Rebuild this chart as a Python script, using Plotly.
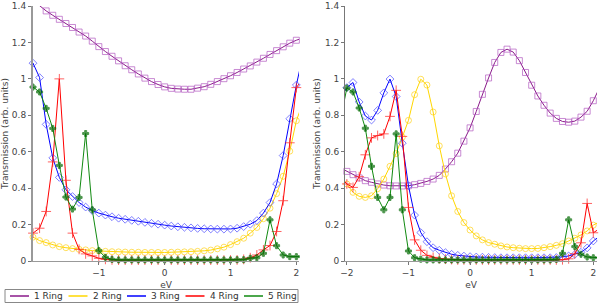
import plotly.graph_objects as go

# x grid (eV), -2.1 .. 2.1 step 0.1
x_ev = [round(v / 10, 1) for v in range(-21, 22)]

# ---------- left panel ----------
left_1ring = [1.46, 1.43, 1.405, 1.373, 1.349, 1.327, 1.304, 1.282, 1.257, 1.235, 1.207,
              1.177, 1.150, 1.124, 1.099, 1.072, 1.050, 1.027, 1.004, 0.985, 0.969,
              0.956, 0.948, 0.944, 0.943, 0.943, 0.949, 0.957, 0.970, 0.985, 1.001,
              1.017, 1.035, 1.054, 1.071, 1.092, 1.113, 1.134, 1.155, 1.176, 1.196,
              1.212, 1.225]
left_2ring = [0.145, 0.131, 0.112, 0.101, 0.088, 0.079, 0.073, 0.068, 0.064, 0.061, 0.057,
              0.055, 0.053, 0.051, 0.050, 0.049, 0.048, 0.048, 0.047, 0.047, 0.047,
              0.047, 0.048, 0.049, 0.050, 0.051, 0.053, 0.056, 0.060, 0.067, 0.076,
              0.090, 0.106, 0.125, 0.153, 0.184, 0.232, 0.290, 0.370, 0.465, 0.603,
              0.770, 0.870]
left_3ring = [0.90, 1.086, 1.007, 0.750, 0.566, 0.459, 0.391, 0.354, 0.321, 0.296, 0.277,
              0.263, 0.252, 0.243, 0.235, 0.229, 0.223, 0.218, 0.212, 0.207, 0.202,
              0.197, 0.192, 0.188, 0.185, 0.182, 0.179, 0.177, 0.176, 0.175, 0.175,
              0.176, 0.180, 0.189, 0.202, 0.222, 0.263, 0.321, 0.423, 0.579, 0.781,
              0.966, 1.13]
left_4ring = [0.14, 0.153, 0.180, 0.272, 0.544, 1.0, 0.443, 0.153, 0.064, 0.039, 0.028,
              0.015, 0.009, 0.006, 0.005, 0.005, 0.005, 0.005, 0.005, 0.005, 0.005,
              0.005, 0.005, 0.005, 0.005, 0.005, 0.005, 0.005, 0.005, 0.005, 0.005,
              0.005, 0.006, 0.009, 0.018, 0.033, 0.061, 0.085, 0.162, 0.331, 0.649,
              0.952, 1.0]
left_5ring = [0.78, 0.955, 0.928, 0.838, 0.728, 0.525, 0.351, 0.285, 0.349, 0.700, 0.281,
              0.057, 0.020, 0.009, 0.006, 0.006, 0.006, 0.006, 0.006, 0.006, 0.006,
              0.006, 0.006, 0.006, 0.006, 0.006, 0.006, 0.006, 0.006, 0.006, 0.006,
              0.006, 0.007, 0.007, 0.015, 0.018, 0.042, 0.226, 0.084, 0.033, 0.024,
              0.024, 0.024]

# ---------- right panel ----------
right_1ring = [0.51, 0.492, 0.474, 0.456, 0.441, 0.432, 0.423, 0.417, 0.413, 0.412, 0.412,
               0.413, 0.419, 0.426, 0.437, 0.450, 0.470, 0.505, 0.545, 0.592, 0.658,
               0.731, 0.821, 0.915, 1.005, 1.090, 1.145, 1.163, 1.147, 1.100, 1.035,
               0.965, 0.906, 0.855, 0.812, 0.783, 0.766, 0.762, 0.768, 0.790, 0.822,
               0.880, 0.950]
right_2ring = [0.46, 0.423, 0.377, 0.355, 0.349, 0.358, 0.397, 0.450, 0.520, 0.590, 0.680,
               0.772, 0.913, 0.998, 0.966, 0.818, 0.632, 0.478, 0.358, 0.272, 0.211,
               0.170, 0.138, 0.116, 0.101, 0.092, 0.083, 0.077, 0.073, 0.070, 0.068,
               0.068, 0.069, 0.073, 0.079, 0.086, 0.095, 0.110, 0.125, 0.143, 0.165,
               0.197, 0.215]
right_3ring = [0.90, 0.952, 0.980, 0.873, 0.796, 0.774, 0.827, 0.923, 0.999, 0.903, 0.647,
               0.413, 0.252, 0.156, 0.106, 0.073, 0.059, 0.046, 0.037, 0.031, 0.027,
               0.024, 0.022, 0.021, 0.020, 0.019, 0.018, 0.018, 0.018, 0.018, 0.018,
               0.018, 0.018, 0.018, 0.018, 0.019, 0.022, 0.028, 0.036, 0.048, 0.072,
               0.110, 0.135]
right_4ring = [0.46, 0.423, 0.404, 0.463, 0.583, 0.676, 0.689, 0.698, 0.794, 0.937, 0.684,
               0.294, 0.116, 0.059, 0.031, 0.020, 0.013, 0.010, 0.008, 0.006, 0.006,
               0.006, 0.006, 0.006, 0.006, 0.006, 0.006, 0.006, 0.006, 0.006, 0.006,
               0.006, 0.006, 0.006, 0.006, 0.006, 0.007, 0.012, 0.040, 0.100, 0.316,
               0.155, 0.177]
right_5ring = [0.78, 0.950, 0.928, 0.840, 0.729, 0.520, 0.349, 0.281, 0.349, 0.698, 0.281,
               0.055, 0.018, 0.010, 0.006, 0.006, 0.006, 0.006, 0.006, 0.006, 0.006,
               0.006, 0.006, 0.006, 0.006, 0.006, 0.006, 0.006, 0.006, 0.006, 0.006,
               0.006, 0.006, 0.006, 0.006, 0.009, 0.042, 0.226, 0.079, 0.037, 0.022,
               0.018, 0.018]

series_names = ["1 Ring", "2 Ring", "3 Ring", "4 Ring", "5 Ring"]
x_ticks_left = [-1, 0, 1, 2]
x_ticks_right = [-2, -1, 0, 1, 2]
y_ticks = [0, 0.2, 0.4, 0.6, 0.8, 1, 1.2, 1.4]
y_tick_text = ["0", "0.2", "0.4", "0.6", "0.8", "1", "1.2", "1.4"]

line_colors = ["#8a1a8a", "#ffd700", "#0000ff", "#ff0000", "#118a11"]
marker_colors = ["#b25ac0", "#ffd21a", "#4a4aff", "#ff2020", "#006a00"]
symbols = ["square-open", "circle-open", "diamond-open", "cross-thin", "cross"]
msizes = [6, 6, 6, 7, 5]

XR_L = [-2.0, 2.04]
XR_R = [-2.03, 2.06]
YR = [0, 1.4]

# figure geometry (pixels)
W, H = 600, 304
ML, MR, MT, MB = 33, 3, 6, 43
PW, PH = W - ML - MR, H - MT - MB

fig = go.Figure()


def add_panel(data, xa, ya, xr):
    for i, ys in enumerate(data):
        sizes = [msizes[i] if (xr[0] - 1e-9 <= xv <= xr[1] and yv <= YR[1]) else 0
                 for xv, yv in zip(x_ev, ys)]
        fig.add_trace(go.Scatter(
            x=x_ev, y=ys, mode="lines+markers", xaxis=xa, yaxis=ya,
            name=series_names[i], showlegend=False, cliponaxis=False,
            line=dict(color=line_colors[i], width=1),
            marker=dict(symbol=symbols[i], size=sizes, color=marker_colors[i],
                        line=dict(color=marker_colors[i], width=1)),
        ))


add_panel([left_1ring, left_2ring, left_3ring, left_4ring, left_5ring], "x", "y", XR_L)
add_panel([right_1ring, right_2ring, right_3ring, right_4ring, right_5ring], "x2", "y2", XR_R)

font = dict(family="DejaVu Sans", size=9, color="#444")
ax_common = dict(showgrid=False, zeroline=False, ticks="outside", ticklen=3,
                 tickcolor="#777", tickfont=font, showline=True, automargin=False)


# ---- compact legend box below the left panel (lines only) ----
def px_x(p):
    return (p - ML) / PW


def px_y(p):
    return (H - MB - p) / PH


shapes = [dict(type="rect", xref="paper", yref="paper",
               x0=px_x(5), x1=px_x(298), y0=px_y(302.5), y1=px_y(289.5),
               line=dict(color="#888", width=1), fillcolor="white", layer="above")]
annotations = []
pitch = 58.5
for i, nm in enumerate(series_names):
    lx0 = 10 + pitch * i
    shapes.append(dict(type="line", xref="paper", yref="paper",
                       x0=px_x(lx0), x1=px_x(lx0 + 19), y0=px_y(296), y1=px_y(296),
                       line=dict(color=line_colors[i], width=1.5), layer="above"))
    annotations.append(dict(text=nm, xref="paper", yref="paper", x=px_x(lx0 + 22),
                            y=px_y(296), xanchor="left", yanchor="middle",
                            showarrow=False, font=dict(family="DejaVu Sans", size=9,
                                                       color="#333")))

fig.update_layout(
    width=W, height=H,
    margin=dict(l=ML, r=MR, t=MT, b=MB),
    paper_bgcolor="white", plot_bgcolor="white",
    font=font, showlegend=False,
    xaxis=dict(domain=[0, 0.4716], range=XR_L, tickvals=x_ticks_left,
               ticktext=["\u22121", "0", "1", "2"], linecolor="#999", linewidth=1,
               title=dict(text="eV", font=font, standoff=4), anchor="y", **ax_common),
    yaxis=dict(domain=[0, 1], range=YR, tickvals=y_ticks, ticktext=y_tick_text,
               linecolor="#999", linewidth=2, anchor="x",
               title=dict(text="Transmission (arb. units)", font=font, standoff=2),
               **ax_common),
    xaxis2=dict(domain=[0.5532, 1], range=XR_R, tickvals=x_ticks_right,
                ticktext=["\u22122", "\u22121", "0", "1", "2"], linecolor="#999",
                linewidth=1, title=dict(text="eV", font=font, standoff=4), anchor="y2",
                **ax_common),
    yaxis2=dict(domain=[0, 1], range=YR, tickvals=y_ticks, ticktext=y_tick_text,
                linecolor="#777", linewidth=1, anchor="x2",
                title=dict(text="Transmission (arb. units)", font=font, standoff=2),
                **ax_common),
    shapes=shapes,
    annotations=annotations,
)

fig.write_html("out.html", config={"displayModeBar": False},
               post_script="document.body.style.margin='0';")
